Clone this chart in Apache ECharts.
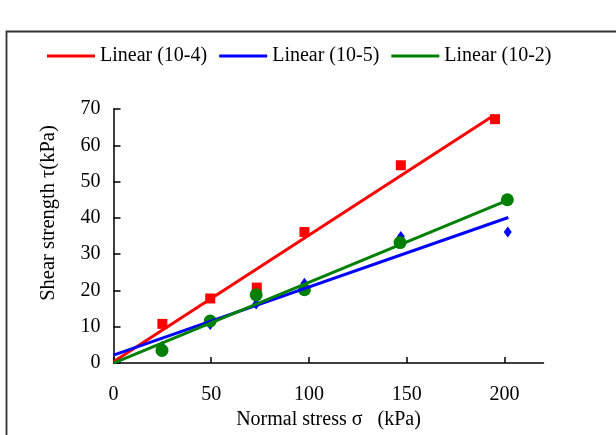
<!DOCTYPE html>
<html>
<head>
<meta charset="utf-8">
<script src="https://cdn.jsdelivr.net/npm/echarts@6/dist/echarts.min.js"></script>
<style>html,body{margin:0;padding:0;background:#fff}#c{width:616px;height:435px}</style>
</head>
<body>
<div id="c"></div>
<script>
// Measured points (normal stress kPa, shear strength kPa)
var stress4 = [25, 49.5, 73.3, 97.7, 147, 195.2];
var tau4    = [10.8, 17.8, 20.8, 36.1, 54.5, 67.2];
var stress5 = [24.8, 49.5, 73, 97.7, 147, 201.7];
var tau5    = [4.6, 10.6, 16.3, 22.0, 34.9, 36.1];
var stress2 = [24.8, 49.5, 73, 97.7, 146.6, 201.5];
var tau2    = [3.5, 11.6, 18.8, 20.2, 33.2, 45.0];
// Linear fit endpoints (x, y)
var fit4 = [[0, 0.4], [194.7, 68.3]];
var fit5 = [[0, 2.2], [202, 40.1]];
var fit2 = [[0, 0.0], [201.5, 44.8]];
var xTicks = [0, 50, 100, 150, 200];
var names = ['Linear (10-4)', 'Linear (10-5)', 'Linear (10-2)'];

function pairs(xs, ys){ return xs.map(function(x,i){return [x, ys[i]];}); }

var font = 'Liberation Serif, Times New Roman, serif';
var chart = echarts.init(document.getElementById('c'), null, {renderer:'canvas'});
chart.setOption({
  animation:false,
  backgroundColor:'#fff',
  graphic:[{type:'rect', left:4, top:29, shape:{width:700, height:500}, style:{fill:'none', stroke:'#333', lineWidth:1.8}, silent:true}],
  legend:{
    data:names.map(function(n){return {name:n, icon:'rect'};}),
    left:42, top:41, itemWidth:48, itemHeight:3, itemGap:12,
    textStyle:{fontFamily:font, fontSize:20, color:'#000'}
  },
  grid:{left:113.5, right:72.5, top:109, bottom:69.5, containLabel:false},
  xAxis:{
    type:'value', min:0, max:220, interval:50,
    name:'Normal stress σ   (kPa)', nameLocation:'middle', nameGap:45,
    nameTextStyle:{fontFamily:font, fontSize:20, color:'#000'},
    axisLine:{show:true, lineStyle:{color:'#000', width:1.5}},
    axisTick:{show:true, inside:true, length:6, customValues:xTicks, lineStyle:{color:'#000', width:1.5}},
    axisLabel:{customValues:xTicks, fontFamily:font, fontSize:20, color:'#000', margin:22},
    splitLine:{show:false}
  },
  yAxis:{
    type:'value', min:0, max:70, interval:10,
    name:'Shear strength τ(kPa)', nameLocation:'middle', nameGap:54, nameRotate:90,
    nameTextStyle:{fontFamily:font, fontSize:20.5, color:'#000', padding:[0,0,0,46]},
    axisLine:{show:true, lineStyle:{color:'#000', width:1.5}},
    axisTick:{show:true, inside:true, length:7, lineStyle:{color:'#000', width:1.5}},
    axisLabel:{fontFamily:font, fontSize:20, color:'#000', margin:13},
    splitLine:{show:false}
  },
  series:[
    {type:'scatter', name:'pts4', data:pairs(stress4, tau4), symbol:'rect', symbolSize:10, itemStyle:{color:'#ff0000', opacity:1}, z:2},
    {type:'scatter', name:'pts5', data:pairs(stress5, tau5), symbol:'diamond', symbolSize:[8,11], itemStyle:{color:'#0000ff', opacity:1}, z:2},
    {type:'scatter', name:'pts2', data:pairs(stress2, tau2), symbol:'circle', symbolSize:13, itemStyle:{color:'#008000', opacity:1}, z:2},
    {type:'line', name:names[0], data:fit4, symbol:'none', lineStyle:{color:'#ff0000', width:3}, itemStyle:{color:'#ff0000'}, z:3},
    {type:'line', name:names[1], data:fit5, symbol:'none', lineStyle:{color:'#0000ff', width:3}, itemStyle:{color:'#0000ff'}, z:3},
    {type:'line', name:names[2], data:fit2, symbol:'none', lineStyle:{color:'#008000', width:3}, itemStyle:{color:'#008000'}, z:3}
  ]
});
</script>
</body>
</html>
